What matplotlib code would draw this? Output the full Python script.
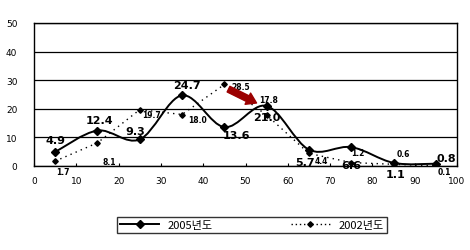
import matplotlib
matplotlib.use("Agg")
import matplotlib.pyplot as plt
from matplotlib.path import Path
from matplotlib.patches import PathPatch, FancyArrowPatch
from matplotlib.lines import Line2D

plt.rcParams["font.family"] = ["Noto Sans CJK KR", "DejaVu Sans"]

x_pos = [5, 15, 25, 35, 45, 55, 65, 75, 85, 95]
vals_2005 = [4.9, 12.4, 9.3, 24.7, 13.6, 21.0, 5.7, 6.6, 1.1, 0.8]
vals_2002 = [1.7, 8.1, 19.7, 18.0, 28.5, 17.8, 4.4, 1.2, 0.6, 0.1]
labels_2005 = ["4.9", "12.4", "9.3", "24.7", "13.6", "21.0", "5.7", "6.6", "1.1", "0.8"]
labels_2002 = ["1.7", "8.1", "19.7", "18.0", "28.5", "17.8", "4.4", "1.2", "0.6", "0.1"]
series_names = ["2005년도", "2002년도"]

# label offsets in pixels (dx, dy)
off_2005 = [(0, 12), (2, 11), (-4, 8), (5, 10), (12, -8), (0, -11), (-4, -12), (0, -18), (2, -11), (10, 6)]
off_2002 = [(8, -10), (12, -19), (12, -5), (15, -5), (16, -2), (2, 16), (12, -7), (7, 10), (10, 11), (8, -6)]

fig = plt.figure(figsize=(4.7, 2.51), dpi=100)
ax = fig.add_axes([34 / 470, 1 - 167 / 251, 423 / 470, 143 / 251])


def smooth_path(xs, ys):
    pts = list(zip(xs, ys))
    verts = [pts[0]]
    codes = [Path.MOVETO]
    n = len(pts)
    for i in range(n - 1):
        p0 = pts[i - 1] if i > 0 else pts[i]
        p1 = pts[i]
        p2 = pts[i + 1]
        p3 = pts[i + 2] if i + 2 < n else pts[i + 1]
        c1 = (p1[0] + (p2[0] - p0[0]) / 6, p1[1] + (p2[1] - p0[1]) / 6)
        c2 = (p2[0] - (p3[0] - p1[0]) / 6, p2[1] - (p3[1] - p1[1]) / 6)
        verts += [c1, c2, p2]
        codes += [Path.CURVE4] * 3
    return Path(verts, codes)


ax.add_patch(PathPatch(smooth_path(x_pos, vals_2005), fill=False, edgecolor="black", lw=1.4, zorder=3))
ax.plot(x_pos, vals_2005, linestyle="none", marker="D", markersize=4.5, color="black", zorder=4)
ax.plot(x_pos, vals_2002, linestyle=(0, (1, 3)), lw=1.0, marker="D", markersize=2.8, color="black", zorder=3)

for x, v, t, (dx, dy) in zip(x_pos, vals_2005, labels_2005, off_2005):
    ax.annotate(t, (x, v), xytext=(dx * 0.72, dy * 0.72), textcoords="offset points",
                ha="center", va="center", fontsize=8, fontweight="bold", family="DejaVu Sans", zorder=5)
for x, v, t, (dx, dy) in zip(x_pos, vals_2002, labels_2002, off_2002):
    ax.annotate(t, (x, v), xytext=(dx * 0.72, dy * 0.72), textcoords="offset points",
                ha="center", va="center", fontsize=5.5, fontweight="bold", family="DejaVu Sans", zorder=5)

ax.add_patch(FancyArrowPatch((45.4, 27.3), (53.2, 21.6),
                             arrowstyle="simple,head_width=9,head_length=7,tail_width=4.5",
                             color="#9b0000", zorder=6, mutation_scale=1))

ax.set_xlim(0, 100)
ax.set_ylim(0, 50)
ax.set_xticks(range(0, 101, 10))
ax.set_yticks(range(0, 51, 10))
ax.tick_params(axis="x", labelsize=6.5, length=2, direction="in", pad=7)
ax.tick_params(axis="y", labelsize=6.5, length=0, pad=12)
for lbl in ax.get_xticklabels() + ax.get_yticklabels():
    lbl.set_family("DejaVu Sans")
ax.grid(axis="y", color="black", lw=0.9)
for s in ax.spines.values():
    s.set_color("black")
    s.set_linewidth(1.0)

handles = [
    Line2D([], [], color="black", lw=1.4, marker="D", markersize=4),
    Line2D([], [], color="black", lw=1.0, linestyle=(0, (1, 2)), marker="D", markersize=2.8),
]
leg = fig.legend(handles, series_names, loc="center", bbox_to_anchor=(252 / 470, 1 - 226 / 251), ncol=2,
                 fontsize=8, frameon=True, fancybox=False, edgecolor="black", columnspacing=7,
                 handlelength=3.5, borderpad=0.3, borderaxespad=0)
leg.get_frame().set_linewidth(1.0)

fig.savefig("out.png", dpi=100)
